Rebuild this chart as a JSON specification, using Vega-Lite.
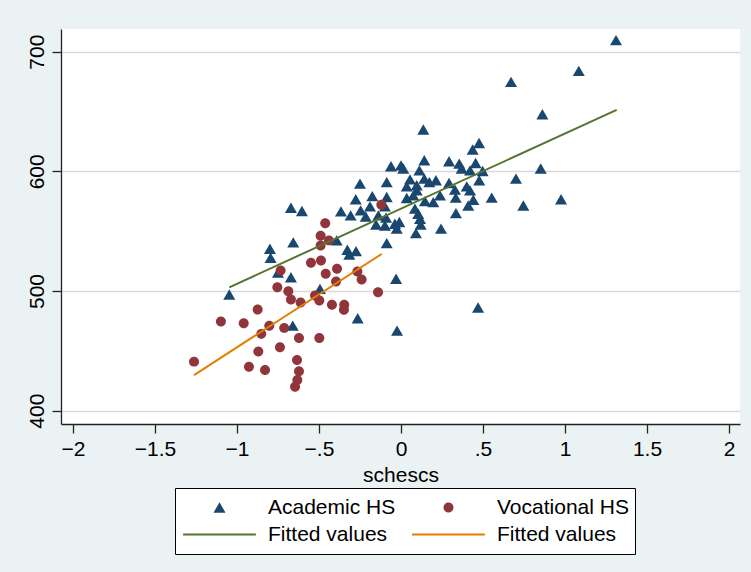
{
  "$schema": "https://vega.github.io/schema/vega-lite/v6.json",
  "width": 679,
  "height": 395,
  "autosize": {"type": "none"},
  "padding": {"left": 61, "top": 29, "right": 11, "bottom": 148},
  "background": "#EAF2F3",
  "config": {
    "view": {"fill": "white", "stroke": null},
    "font": "Liberation Sans",
    "axis": {
      "labelFont": "Liberation Sans", "titleFont": "Liberation Sans",
      "labelFontSize": 21, "titleFontSize": 21, "titleFontWeight": "normal",
      "labelColor": "#000", "titleColor": "#000",
      "domainColor": "#222", "tickColor": "#222", "domainWidth": 1.3, "tickWidth": 1.3, "tickSize": 9
    }
  },
  "encoding": {
    "x": {"field": "schescs", "type": "quantitative",
      "scale": {"domain": [-2.073, 2.067], "nice": false, "zero": false},
      "axis": {"values": [-2, -1.5, -1, -0.5, 0, 0.5, 1, 1.5, 2],
        "labelExpr": "datum.value == 0 ? '0' : replace(replace(format(datum.value, ''), '0.', '.'), '-', '\u2212')",
        "grid": false, "title": "schescs", "labelPadding": 5, "titlePadding": 5, "labelFlush": false, "labelOverlap": false}},
    "y": {"field": "score", "type": "quantitative",
      "scale": {"domain": [388.9, 718.9], "nice": false, "zero": false},
      "axis": {"values": [400, 500, 600, 700], "grid": true, "gridColor": "#d9d9d9", "gridWidth": 1.5,
        "title": null, "labelAngle": 270, "labelAlign": "center", "labelBaseline": "alphabetic",
        "labelPadding": 9, "labelFlush": false, "labelOverlap": false}},
    "color": {"field": "series", "type": "nominal",
      "scale": {"domain": ["Academic HS", "Vocational HS", "Fitted values A", "Fitted values V"],
        "range": ["#1A476F", "#90353B", "#55752F", "#E37E00"]},
      "legend": {"title": null, "orient": "none", "legendX": 114, "legendY": 459, "direction": "horizontal", "columns": 2,
        "symbolSize": 5300, "labelFontSize": 21, "labelFont": "Liberation Sans", "labelColor": "#000",
        "labelOffset": 11, "symbolOffset": 1, "columnPadding": 14, "rowPadding": 0, "clipHeight": 27, "padding": 6,
        "strokeColor": "#000", "fillColor": "white", "symbolOpacity": 1,
        "labelExpr": "indexof(datum.label, 'Fitted') == 0 ? 'Fitted values' : datum.label",
        "encode": {"symbols": {"update": {"stroke": {"scale": "color", "field": "value"}, "strokeWidth": {"value": 2},
          "strokeOpacity": {"signal": "indexof(datum.value, 'Fitted') == 0 ? 1 : 0"}}}}}
    }
  },
  "layer": [
    {
      "data": {"values": [
        {"series": "Academic HS", "schescs": 0.136, "score": 634.9},
        {"series": "Academic HS", "schescs": 0.862, "score": 647.7},
        {"series": "Academic HS", "schescs": 0.437, "score": 618.2},
        {"series": "Academic HS", "schescs": 0.476, "score": 623.7},
        {"series": "Academic HS", "schescs": -0.061, "score": 604.2},
        {"series": "Academic HS", "schescs": 0.0, "score": 605.0},
        {"series": "Academic HS", "schescs": 0.014, "score": 602.3},
        {"series": "Academic HS", "schescs": 0.142, "score": 609.2},
        {"series": "Academic HS", "schescs": 0.112, "score": 600.8},
        {"series": "Academic HS", "schescs": 0.293, "score": 608.4},
        {"series": "Academic HS", "schescs": 0.355, "score": 606.4},
        {"series": "Academic HS", "schescs": 0.370, "score": 602.3},
        {"series": "Academic HS", "schescs": 0.455, "score": 606.9},
        {"series": "Academic HS", "schescs": 0.421, "score": 600.8},
        {"series": "Academic HS", "schescs": 0.498, "score": 600.3},
        {"series": "Academic HS", "schescs": 0.852, "score": 602.3},
        {"series": "Academic HS", "schescs": -0.250, "score": 589.7},
        {"series": "Academic HS", "schescs": -0.087, "score": 591.0},
        {"series": "Academic HS", "schescs": 0.055, "score": 593.3},
        {"series": "Academic HS", "schescs": 0.035, "score": 587.4},
        {"series": "Academic HS", "schescs": 0.096, "score": 588.3},
        {"series": "Academic HS", "schescs": 0.142, "score": 593.9},
        {"series": "Academic HS", "schescs": 0.213, "score": 592.5},
        {"series": "Academic HS", "schescs": 0.173, "score": 591.0},
        {"series": "Academic HS", "schescs": 0.293, "score": 590.2},
        {"series": "Academic HS", "schescs": 0.401, "score": 587.4},
        {"series": "Academic HS", "schescs": 0.329, "score": 584.7},
        {"series": "Academic HS", "schescs": 0.477, "score": 592.5},
        {"series": "Academic HS", "schescs": 0.421, "score": 584.1},
        {"series": "Academic HS", "schescs": 0.701, "score": 593.9},
        {"series": "Academic HS", "schescs": -0.276, "score": 576.6},
        {"series": "Academic HS", "schescs": -0.175, "score": 579.3},
        {"series": "Academic HS", "schescs": -0.087, "score": 578.5},
        {"series": "Academic HS", "schescs": 0.035, "score": 577.7},
        {"series": "Academic HS", "schescs": 0.075, "score": 579.9},
        {"series": "Academic HS", "schescs": 0.096, "score": 584.1},
        {"series": "Academic HS", "schescs": 0.146, "score": 575.1},
        {"series": "Academic HS", "schescs": 0.197, "score": 574.3},
        {"series": "Academic HS", "schescs": 0.238, "score": 579.9},
        {"series": "Academic HS", "schescs": 0.334, "score": 578.0},
        {"series": "Academic HS", "schescs": 0.441, "score": 576.3},
        {"series": "Academic HS", "schescs": 0.410, "score": 571.5},
        {"series": "Academic HS", "schescs": 0.553, "score": 578.0},
        {"series": "Academic HS", "schescs": 0.746, "score": 571.5},
        {"series": "Academic HS", "schescs": 0.976, "score": 576.6},
        {"series": "Academic HS", "schescs": -0.366, "score": 566.5},
        {"series": "Academic HS", "schescs": -0.307, "score": 563.2},
        {"series": "Academic HS", "schescs": -0.246, "score": 567.4},
        {"series": "Academic HS", "schescs": -0.189, "score": 570.7},
        {"series": "Academic HS", "schescs": -0.215, "score": 562.3},
        {"series": "Academic HS", "schescs": -0.098, "score": 570.7},
        {"series": "Academic HS", "schescs": -0.138, "score": 563.2},
        {"series": "Academic HS", "schescs": -0.152, "score": 555.6},
        {"series": "Academic HS", "schescs": -0.091, "score": 561.3},
        {"series": "Academic HS", "schescs": -0.098, "score": 554.8},
        {"series": "Academic HS", "schescs": -0.037, "score": 556.2},
        {"series": "Academic HS", "schescs": -0.010, "score": 557.6},
        {"series": "Academic HS", "schescs": -0.026, "score": 552.1},
        {"series": "Academic HS", "schescs": 0.085, "score": 568.8},
        {"series": "Academic HS", "schescs": 0.105, "score": 564.6},
        {"series": "Academic HS", "schescs": 0.116, "score": 560.4},
        {"series": "Academic HS", "schescs": 0.120, "score": 555.6},
        {"series": "Academic HS", "schescs": 0.091, "score": 548.4},
        {"series": "Academic HS", "schescs": 0.244, "score": 552.1},
        {"series": "Academic HS", "schescs": 0.335, "score": 565.1},
        {"series": "Academic HS", "schescs": -0.392, "score": 542.3},
        {"series": "Academic HS", "schescs": -0.087, "score": 540.0},
        {"series": "Academic HS", "schescs": -0.327, "score": 534.5},
        {"series": "Academic HS", "schescs": -0.274, "score": 533.3},
        {"series": "Academic HS", "schescs": -0.315, "score": 530.5},
        {"series": "Academic HS", "schescs": -0.030, "score": 510.2},
        {"series": "Academic HS", "schescs": 1.311, "score": 709.6},
        {"series": "Academic HS", "schescs": 1.084, "score": 683.9},
        {"series": "Academic HS", "schescs": 0.671, "score": 674.7},
        {"series": "Academic HS", "schescs": -0.671, "score": 569.6},
        {"series": "Academic HS", "schescs": -0.604, "score": 566.8},
        {"series": "Academic HS", "schescs": -0.657, "score": 540.6},
        {"series": "Academic HS", "schescs": -0.799, "score": 535.3},
        {"series": "Academic HS", "schescs": -0.795, "score": 527.8},
        {"series": "Academic HS", "schescs": -0.750, "score": 515.5},
        {"series": "Academic HS", "schescs": -0.671, "score": 511.5},
        {"series": "Academic HS", "schescs": -1.047, "score": 497.1},
        {"series": "Academic HS", "schescs": -0.494, "score": 501.8},
        {"series": "Academic HS", "schescs": -0.660, "score": 471.1},
        {"series": "Academic HS", "schescs": -0.264, "score": 477.2},
        {"series": "Academic HS", "schescs": -0.024, "score": 466.9},
        {"series": "Academic HS", "schescs": 0.470, "score": 486.2},
        {"series": "Vocational HS", "schescs": -1.262, "score": 441.0},
        {"series": "Vocational HS", "schescs": -1.098, "score": 474.5},
        {"series": "Vocational HS", "schescs": -0.959, "score": 473.1},
        {"series": "Vocational HS", "schescs": -0.874, "score": 484.5},
        {"series": "Vocational HS", "schescs": -0.803, "score": 470.9},
        {"series": "Vocational HS", "schescs": -0.852, "score": 464.2},
        {"series": "Vocational HS", "schescs": -0.870, "score": 449.4},
        {"series": "Vocational HS", "schescs": -0.927, "score": 436.8},
        {"series": "Vocational HS", "schescs": -0.829, "score": 434.1},
        {"series": "Vocational HS", "schescs": -0.738, "score": 453.0},
        {"series": "Vocational HS", "schescs": -0.712, "score": 469.2},
        {"series": "Vocational HS", "schescs": -0.622, "score": 460.8},
        {"series": "Vocational HS", "schescs": -0.498, "score": 460.8},
        {"series": "Vocational HS", "schescs": -0.634, "score": 442.4},
        {"series": "Vocational HS", "schescs": -0.622, "score": 432.9},
        {"series": "Vocational HS", "schescs": -0.632, "score": 425.7},
        {"series": "Vocational HS", "schescs": -0.646, "score": 420.1},
        {"series": "Vocational HS", "schescs": -0.754, "score": 503.2},
        {"series": "Vocational HS", "schescs": -0.734, "score": 517.2},
        {"series": "Vocational HS", "schescs": -0.687, "score": 499.8},
        {"series": "Vocational HS", "schescs": -0.671, "score": 492.9},
        {"series": "Vocational HS", "schescs": -0.612, "score": 490.4},
        {"series": "Vocational HS", "schescs": -0.524, "score": 496.2},
        {"series": "Vocational HS", "schescs": -0.498, "score": 492.1},
        {"series": "Vocational HS", "schescs": -0.421, "score": 488.5},
        {"series": "Vocational HS", "schescs": -0.346, "score": 488.5},
        {"series": "Vocational HS", "schescs": -0.348, "score": 484.3},
        {"series": "Vocational HS", "schescs": -0.549, "score": 523.6},
        {"series": "Vocational HS", "schescs": -0.488, "score": 525.5},
        {"series": "Vocational HS", "schescs": -0.459, "score": 514.4},
        {"series": "Vocational HS", "schescs": -0.390, "score": 518.6},
        {"series": "Vocational HS", "schescs": -0.396, "score": 508.0},
        {"series": "Vocational HS", "schescs": -0.266, "score": 516.3},
        {"series": "Vocational HS", "schescs": -0.240, "score": 509.6},
        {"series": "Vocational HS", "schescs": -0.140, "score": 499.0},
        {"series": "Vocational HS", "schescs": -0.462, "score": 556.7},
        {"series": "Vocational HS", "schescs": -0.490, "score": 546.2},
        {"series": "Vocational HS", "schescs": -0.490, "score": 538.1},
        {"series": "Vocational HS", "schescs": -0.439, "score": 542.3},
        {"series": "Vocational HS", "schescs": -0.120, "score": 572.1}
      ]},
      "mark": {"type": "point", "filled": true, "opacity": 1, "size": 5300, "strokeWidth": 0},
      "encoding": {
        "shape": {"field": "series", "type": "nominal",
          "scale": {"domain": ["Academic HS", "Vocational HS", "Fitted values A", "Fitted values V"],
            "range": ["M0,-0.143L0.165,0.143L-0.165,0.143Z", "M0.137,0A0.137,0.137,0,1,1,-0.137,0A0.137,0.137,0,1,1,0.137,0Z", "stroke", "stroke"]},
          "legend": {"title": null, "orient": "none", "legendX": 114, "legendY": 459, "direction": "horizontal", "columns": 2,
            "symbolSize": 5300, "labelFontSize": 21, "labelFont": "Liberation Sans", "labelColor": "#000",
            "labelOffset": 11, "symbolOffset": 1, "columnPadding": 14, "rowPadding": 0, "clipHeight": 27, "padding": 6,
            "strokeColor": "#000", "fillColor": "white", "symbolOpacity": 1,
            "labelExpr": "indexof(datum.label, 'Fitted') == 0 ? 'Fitted values' : datum.label",
            "encode": {"symbols": {"update": {"stroke": {"scale": "color", "field": "value"}, "strokeWidth": {"value": 2},
              "strokeOpacity": {"signal": "indexof(datum.value, 'Fitted') == 0 ? 1 : 0"}}}}}
        }
      }
    },
    {
      "data": {"values": [
        {"series": "Fitted values A", "schescs": -1.047, "score": 503.1},
        {"series": "Fitted values A", "schescs": 1.315, "score": 651.3},
        {"series": "Fitted values V", "schescs": -1.262, "score": 429.8},
        {"series": "Fitted values V", "schescs": -0.118, "score": 530.9}
      ]},
      "mark": {"type": "line", "strokeWidth": 2}
    }
  ]
}
